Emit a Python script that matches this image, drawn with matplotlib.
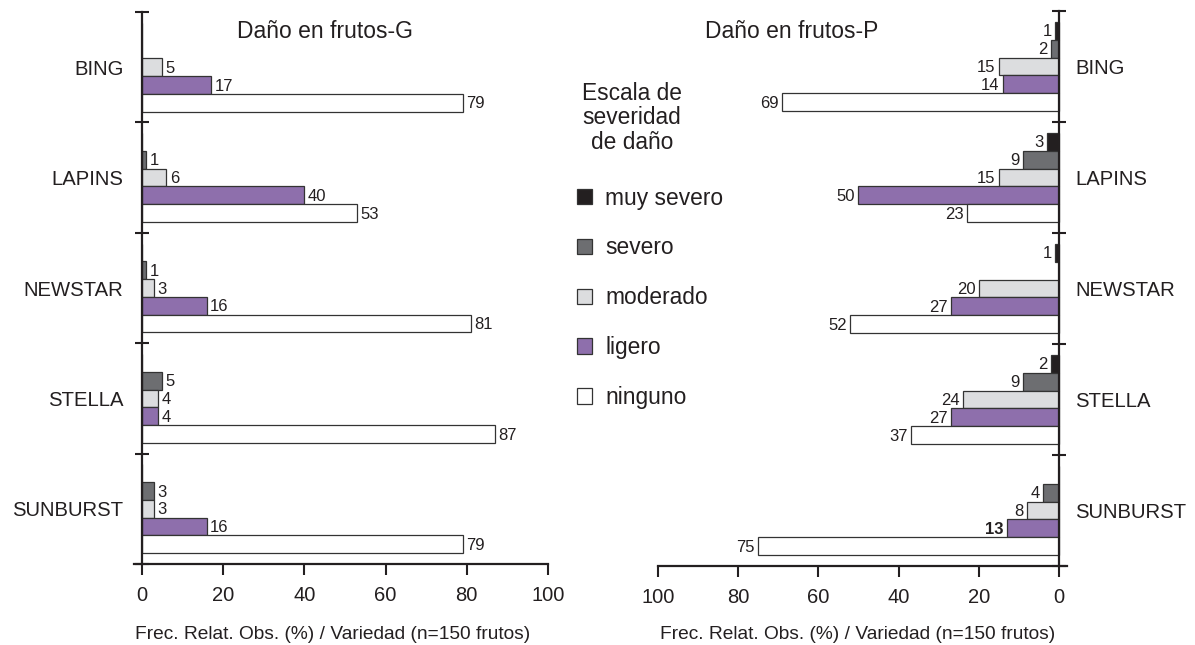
import numpy as np
import matplotlib
matplotlib.use("Agg")
import matplotlib.pyplot as plt

plt.rcParams['font.family'] = ['Liberation Sans', 'DejaVu Sans']

# data
variedades = ['BING', 'LAPINS', 'NEWSTAR', 'STELLA', 'SUNBURST']
niveles = ['muy severo', 'severo', 'moderado', 'ligero', 'ninguno']
colores = ['#231f20', '#6d6e71', '#dcdddf', '#8e6fac', '#ffffff']

# one list per severity level, in variety order (G = left, P = right)
g_muy_severo = [0, 0, 0, 0, 0]
g_severo = [0, 1, 1, 5, 3]
g_moderado = [5, 6, 3, 4, 3]
g_ligero = [17, 40, 16, 4, 16]
g_ninguno = [79, 53, 81, 87, 79]

p_muy_severo = [1, 3, 1, 2, 0]
p_severo = [2, 9, 0, 9, 4]
p_moderado = [15, 15, 20, 24, 8]
p_ligero = [14, 50, 27, 27, 13]
p_ninguno = [69, 23, 52, 37, 75]

datos_g = [g_muy_severo, g_severo, g_moderado, g_ligero, g_ninguno]
datos_p = [p_muy_severo, p_severo, p_moderado, p_ligero, p_ninguno]

txt = '#231f20'
W, H = 1195, 645
fig = plt.figure(figsize=(W / 100, H / 100), dpi=100)

axL = fig.add_axes([133.9 / W, 1 - 564 / H, 414.1 / W, 552 / H])
axR = fig.add_axes([658 / W, 1 - 566 / H, 409 / W, 555 / H])

alto = 0.161
y = np.arange(len(variedades))


def dibujar(ax, datos, derecha):
    barras = []
    for k, (vals, col) in enumerate(zip(datos, colores)):
        pos = y + (k - 2) * alto
        b = ax.barh(pos, vals, height=alto, color=col, edgecolor='#333333',
                    linewidth=0.9, label=niveles[k])
        barras.append(b)
        for yy, v in zip(pos, vals):
            if v == 0:
                continue
            peso = 'normal'
            if derecha and k == 3 and v == 13:
                peso = 'bold'
            ax.text(v + 0.8, yy + 0.01, str(v), ha='right' if derecha else 'left',
                    va='center', fontsize=12, color=txt, fontweight=peso)
    ax.set_ylim(4.5, -0.5)
    if derecha:
        ax.set_xlim(100, -2)
    else:
        ax.set_xlim(-2, 100)
    ax.set_xticks([0, 20, 40, 60, 80, 100])
    ax.set_yticks(y)
    ax.set_yticklabels(variedades)
    ax.set_yticks(np.arange(-0.5, 5, 1), minor=True)
    ax.tick_params(axis='y', which='major', length=0, labelsize=14.6, colors=txt,
                   pad=11.5 if derecha else 13.5)
    ax.tick_params(axis='y', which='minor', direction='inout', length=10,
                   width=1.5, color=txt)
    ax.tick_params(axis='x', direction='out', length=8, width=1.5, color=txt,
                   labelsize=14.5, labelcolor=txt, pad=7.5)
    ax.spines['top'].set_visible(False)
    lado = 'right' if derecha else 'left'
    otro = 'left' if derecha else 'right'
    ax.spines[otro].set_visible(False)
    ax.spines[lado].set_position(('data', 0))
    ax.spines[lado].set_linewidth(1.6)
    ax.spines[lado].set_color(txt)
    ax.spines['bottom'].set_linewidth(1.6)
    ax.spines['bottom'].set_color(txt)
    if derecha:
        ax.yaxis.tick_right()
    ax.set_xlabel('Frec. Relat. Obs. (%) / Variedad (n=150 frutos)',
                  fontsize=13.8, color=txt)
    if derecha:
        ax.xaxis.set_label_coords(0.487, -0.108)
    else:
        ax.xaxis.set_label_coords(0.481, -0.113)
    ax.set_facecolor('none')
    return barras


barras = dibujar(axL, datos_g, False)
dibujar(axR, datos_p, True)

fig.text(325 / W, 1 - 31 / H, 'Daño en frutos-G', ha='center', va='center',
         fontsize=16.5, color=txt)
fig.text(792 / W, 1 - 31 / H, 'Daño en frutos-P', ha='center', va='center',
         fontsize=16.5, color=txt)

fig.text(632 / W, 1 - 118 / H, 'Escala de\nseveridad\nde daño', ha='center',
         va='center', multialignment='center', fontsize=16.4, color=txt,
         linespacing=1.1)

fig.legend(handles=barras, labels=niveles, loc='upper left',
           bbox_to_anchor=(577 / W, 1 - 186.5 / H), frameon=False,
           fontsize=16.4, handlelength=0.66, handleheight=0.66, handletextpad=0.57,
           labelspacing=1.18, labelcolor=txt, borderpad=0, borderaxespad=0)

fig.savefig('out.png', dpi=100)
